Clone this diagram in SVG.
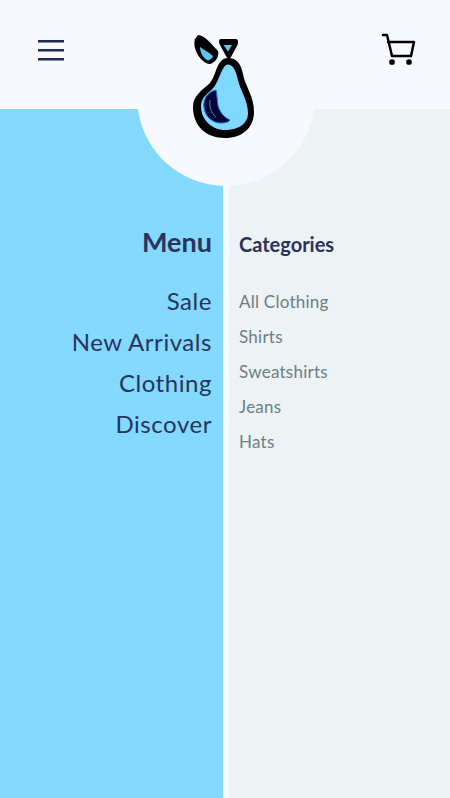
<svg xmlns="http://www.w3.org/2000/svg" width="450" height="798" viewBox="0 0 450 798">
<style>
.m{font-family:"Lato",sans-serif;fill:#29335c;font-size:24px;text-anchor:end;letter-spacing:.55px}
.c{font-family:"Lato",sans-serif;fill:#6b7f82;font-size:17px;letter-spacing:.25px}
</style>
<rect width="450" height="798" fill="#f8f9ff"/>
<rect y="109" width="223" height="689" fill="#83d9ff"/>
<rect x="229" y="109" width="221" height="689" fill="#edf2f4"/>
<circle cx="226" cy="97" r="89" fill="#f8f9ff"/>
<g id="menu-icon" stroke="#1f2a55" stroke-width="2.4"><path d="M38 41.200H64M38 50.200H64M38 59.200H64"/></g>
<g id="cart" fill="none" stroke="#000" stroke-width="2.5" stroke-linecap="round" stroke-linejoin="round"><path d="M383 35H387L392 56H411L414 42H388"/><circle cx="392" cy="62" r="1.6" fill="#000"/><circle cx="409" cy="62" r="1.6" fill="#000"/></g>
<g id="logo">
<path d="M228 58C237 58 241 64 243 74C245 86 254 96 254 112C254 128 242 138 225 138C206 138 193 126 193 107C193 96 202 90 209 84C217 76 216 58 228 58Z" fill="#000"/>
<path d="M228 64.500C234 65 236 72 238 80C240 90 248 100 248 113C248 124 238 130 225 130C212 130 201 120 201 106C201 97 209 93 214 87C220 79 222 65 228 64.500Z" fill="#7fd8ff"/>
<path d="M216 90C207 92 203 100 204 107C205 117 213 123 221 123C225 123 229 122 230 120C225 118 220 113 218 106C217 100 217 95 216 90Z" fill="#000633" stroke="#1c5fd0" stroke-width="1"/>
<path d="M210 100C209 107 211 113 216 117" fill="none" stroke="#2f8fe0" stroke-width="1"/>
<path d="M198 35C205 35 212 45 218 51C220 57 214 64 209 64C200 62 192 48 195 39Z" fill="#000"/>
<path d="M200 47C204 50 210 53 213 56C212 59 209 61 207 60C203 58 200 52 200 47Z" fill="#5cc4f2"/>
<path d="M221 39H236C238 39 238.500 42 237.500 45L231 57C229.500 59 228 59 226.500 57L219.500 44C218.500 41 219 39 221 39Z" fill="#000"/>
<path d="M223.500 45H232L228 51.500Z" fill="#5cc4f2"/>
</g>
<g id="left-text">
<text class="m" x="212" y="252" style="font-size:27px;font-weight:700;letter-spacing:0">Menu</text>
<text class="m" x="212" y="310">Sale</text>
<text class="m" x="212" y="351">New Arrivals</text>
<text class="m" x="212" y="392">Clothing</text>
<text class="m" x="212" y="433">Discover</text>
</g>
<g id="right-text">
<text x="239" y="252" style="font-family:'Lato',sans-serif;font-weight:700;font-size:20px;fill:#29335c">Categories</text>
<text class="c" x="239" y="308">All Clothing</text>
<text class="c" x="239" y="343">Shirts</text>
<text class="c" x="239" y="378">Sweatshirts</text>
<text class="c" x="239" y="413">Jeans</text>
<text class="c" x="239" y="448">Hats</text>
</g>
</svg>
